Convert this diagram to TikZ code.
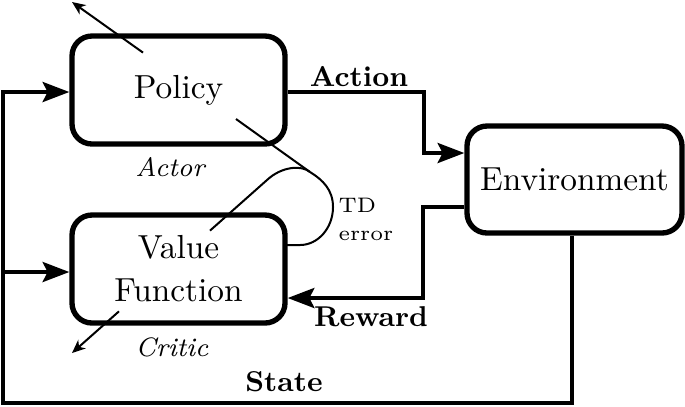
\documentclass[tikz,border=0pt]{standalone}
\usepackage{fontspec}
\usetikzlibrary{arrows.meta}
\begin{document}
\begin{tikzpicture}[x=0.3pt,y=-0.3pt,
  box/.style={draw,line width=1.6pt,rounded corners=6pt,minimum width=63.9pt,minimum height=32.4pt,inner sep=0pt,font=\fontsize{10}{12.9}\selectfont,align=center},
  conn/.style={line width=1.2pt,-{Stealth[length=8pt,width=6pt,inset=1.5pt]}},
  thinl/.style={line width=0.6pt},
  thinarrow/.style={line width=0.6pt,-{Stealth[length=4pt,width=3.4pt,inset=1.2pt]}},
  lbl/.style={font=\fontsize{8.6}{10}\selectfont\bfseries,inner sep=0pt},
  role/.style={font=\fontsize{8}{10}\selectfont\itshape,inner sep=0pt},
  tdlbl/.style={font=\fontsize{6.3}{8.4}\selectfont,align=left,inner sep=0pt,anchor=west}]
\useasboundingbox (0,0) rectangle (685,406);

\node[box] (P) at (178.5,90) {Policy};
\node[box] (V) at (178.5,269) {Value\\Function};
\node[box,minimum width=64.5pt,minimum height=32.1pt] (E) at (574.5,179.5) {Environment};

\coordinate (ya) at (0,92);
\coordinate (yb) at (0,153);
\coordinate (yr) at (0,207);
\coordinate (yv) at (0,298);
\coordinate (ys) at (0,272);
\coordinate (ax) at (424,92);
\coordinate (rx) at (423,207);
\coordinate (sx) at (572,403);
\coordinate (sl) at (3,403);
\coordinate (sv) at (3,272);

\draw[conn] (P.east |- ya) -- (ax) |- (E.west |- yb);
\draw[conn] (E.west |- yr) -- (rx) |- (V.east |- yv);
\draw[conn] (sx |- E.south) -- (sx) -- (sl) |- (P.west |- ya);
\draw[conn] (sv) -- (V.west |- ys);

\node[lbl] (la) at (359,77) {Action};
\node[lbl] (lr) at (371,317) {Reward};
\node[lbl] (ls) at (284,382) {State};
\node[role] (lac) at (170,167) {Actor};
\node[role] (lcr) at (172,347) {Critic};
\node[tdlbl] (td) at (338,219) {TD\\error};

% TD error signal
\coordinate (ve) at (285,245);
\coordinate (sp) at (310,172);
\coordinate (pin) at (236,119);
\coordinate (pa) at (143,52.6);
\coordinate (pt) at (72,2);
\coordinate (vc) at (267,180);
\coordinate (vin) at (210,230.6);
\coordinate (va) at (119,311.3);
\coordinate (vt) at (72,353);
\draw[thinl] (ve) -- (300,245) .. controls (318,245) and (333,228) .. (333,207) .. controls (333,190) and (323,180) .. (sp);
\draw[thinl] (sp) -- (pin);
\draw[thinarrow] (pa) -- (pt);
\draw[thinl] (sp) .. controls (302,165) and (282,166) .. (vc) -- (vin);
\draw[thinarrow] (va) -- (vt);
\end{tikzpicture}
\end{document}
